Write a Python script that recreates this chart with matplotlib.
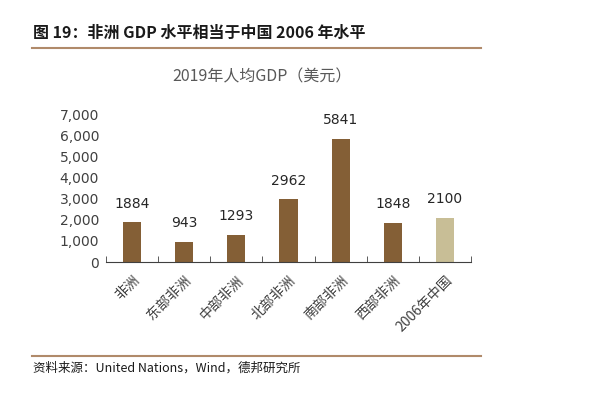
import matplotlib.pyplot as plt
import numpy as np

plt.rcParams['font.family'] = ['Noto Sans CJK SC', 'DejaVu Sans']

# 数据
regions = ['非洲', '东部非洲', '中部非洲', '北部非洲', '南部非洲', '西部非洲', '2006年中国']
gdp = [1884, 943, 1293, 2962, 5841, 1848, 2100]
yticks = [0, 1000, 2000, 3000, 4000, 5000, 6000, 7000]
ytick_labels = ['0', '1,000', '2,000', '3,000', '4,000', '5,000', '6,000', '7,000']

brown = '#845F36'
beige = '#C8BE96'
colors = [brown] * 6 + [beige]

fig = plt.figure(figsize=(5.93, 3.98), dpi=100)
ax = fig.add_axes([106 / 593, 1 - 262 / 398, 365 / 593, 148 / 398])

x = np.arange(len(regions))
bars = ax.bar(x, gdp, width=0.35, color=colors)
for xi, v in zip(x, gdp):
    ax.text(xi, v + 550, str(v), ha='center', va='bottom', fontsize=10, color='#262626',
            family=['DejaVu Sans'])

ax.set_xlim(-0.5, len(regions) - 0.5)
ax.set_ylim(0, 7000)
ax.set_yticks(yticks)
ax.set_yticklabels(ytick_labels, fontsize=10, color='#404040', family=['DejaVu Sans'])
ax.tick_params(axis='y', length=0, pad=5)

# x轴刻度在类别边界
ax.set_xticks(np.arange(-0.5, len(regions), 1.0), minor=True)
ax.set_xticks(x)
ax.set_xticklabels(regions, rotation=45, ha='right', rotation_mode='anchor',
                   fontsize=10, color='#404040')
ax.tick_params(axis='x', which='major', length=0, pad=8)
ax.tick_params(axis='x', which='minor', direction='in', length=4, color='#404040')

for s in ['top', 'right', 'left']:
    ax.spines[s].set_visible(False)
ax.spines['bottom'].set_color('#404040')

# 标题与来源
fig.text(33 / 593, 1 - 33 / 398, '图 19：非洲 GDP 水平相当于中国 2006 年水平', fontsize=11.5,
         fontweight='bold', va='center', color='#1a1a1a')
fig.add_artist(plt.Line2D([32 / 593, 481 / 593], [1 - 48 / 398] * 2, color='#B08A6A', lw=1.5))
fig.text(262 / 593, 1 - 77 / 398, '2019年人均GDP（美元）', fontsize=11.5, ha='center',
         va='center', color='#595959')
fig.add_artist(plt.Line2D([32 / 593, 481 / 593], [1 - 356 / 398] * 2, color='#B08A6A', lw=1.5))
fig.text(33 / 593, 1 - 368 / 398, '资料来源：United Nations，Wind，德邦研究所', fontsize=9,
         va='center', color='#1a1a1a')

fig.savefig('out.png', dpi=100)
